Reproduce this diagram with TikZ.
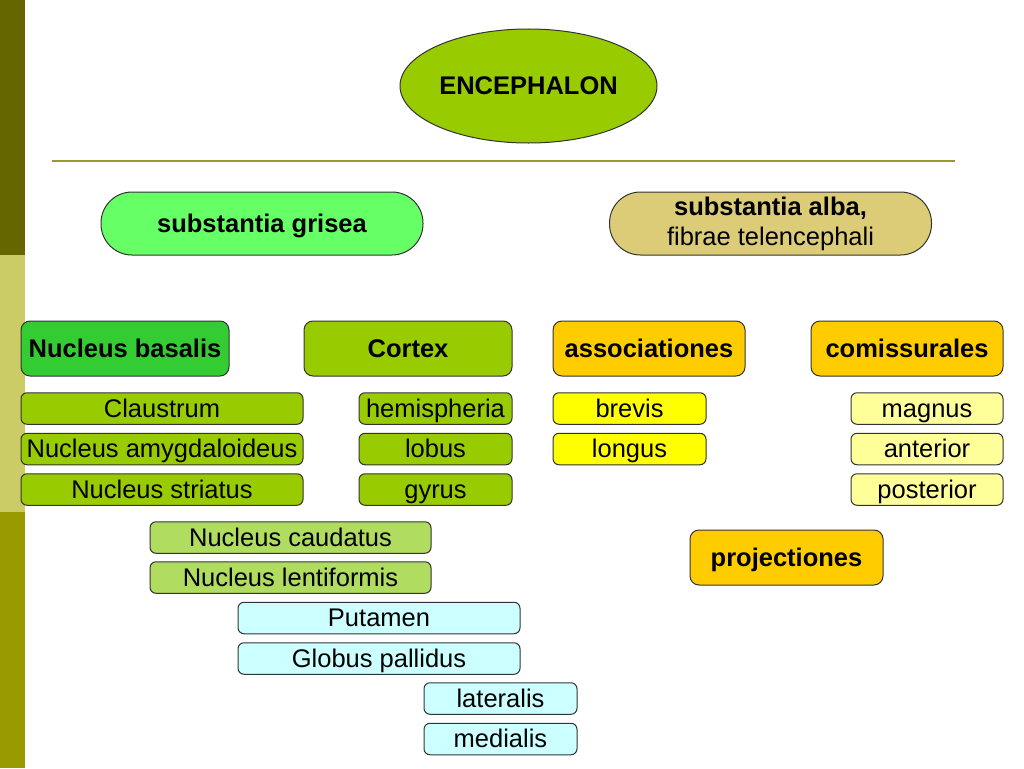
\documentclass[tikz,border=0pt]{standalone}
\usepackage{fontspec}
\setmainfont{Liberation Sans}
\usetikzlibrary{shapes.geometric}
\definecolor{barA}{HTML}{666600}
\definecolor{barB}{HTML}{CCCC66}
\definecolor{barC}{HTML}{999900}
\definecolor{rule}{HTML}{999933}
\definecolor{lime}{HTML}{99CC00}
\definecolor{mint}{HTML}{66FF66}
\definecolor{tan}{HTML}{DDCC77}
\definecolor{kelly}{HTML}{33CC33}
\definecolor{amber}{HTML}{FFCC00}
\definecolor{lemon}{HTML}{FFFF00}
\definecolor{cream}{HTML}{FFFF99}
\definecolor{sage}{HTML}{B0DC60}
\definecolor{aqua}{HTML}{CCFFFF}
\definecolor{edge}{HTML}{333333}
\tikzset{
  base/.style={draw=edge, line width=1pt, inner sep=0pt, align=center,
    text height=20pt, text depth=3pt,
    font=\fontsize{25.5}{30}\selectfont},
  head/.style={base, rounded corners=9pt, minimum height=55pt,
    font=\fontsize{25.5}{30}\selectfont\bfseries},
  pill/.style={base, rounded corners=31pt, minimum width=322pt, minimum height=63pt},
  item/.style={base, rounded corners=6pt, minimum height=31.5pt},
}
\begin{document}
\begin{tikzpicture}[x=1pt,y=-1pt]
\useasboundingbox (0,0) rectangle (1024,768);
% side bar
\fill[barA] (0,0) rectangle (25,255);
\fill[barB] (0,255) rectangle (25,512);
\fill[barC] (0,512) rectangle (25,768);
% rule
\draw[rule, line width=2pt] (52,161) -- (955,161);
% top ellipse
\node[base, ellipse, fill=lime, minimum width=257pt, minimum height=114pt,
  font=\fontsize{25.5}{30}\selectfont\bfseries] (enc) at (528.5,86) {ENCEPHALON};
% second level
\node[pill, fill=mint, font=\fontsize{25.5}{30}\selectfont\bfseries] (gris) at (262,223.5) {substantia grisea};
\node[pill, fill=tan, text height=, text depth=] (alba) at (770.5,223.5) {\textbf{substantia alba,}\\[0pt]fibrae telencephali};
% third level
\node[head, fill=kelly, minimum width=208pt] (nbas) at (125,348.5) {Nucleus basalis};
\node[head, fill=lime, minimum width=208pt] (cort) at (408,348.5) {Cortex};
\node[head, fill=amber, minimum width=192pt] (assoc) at (649,348.5) {associationes};
\node[head, fill=amber, minimum width=192pt] (comis) at (907,348.5) {comissurales};
\node[head, fill=amber, minimum width=193pt] (proj) at (786.5,557.5) {projectiones};
% nucleus basalis items
\node[item, fill=lime, minimum width=282pt] (claus) at (162,408.5) {Claustrum};
\node[item, fill=lime, minimum width=282pt] (amyg) at (162,449) {Nucleus amygdaloideus};
\node[item, fill=lime, minimum width=282pt] (stri) at (162,489.5) {Nucleus striatus};
% cortex items
\node[item, fill=lime, minimum width=153pt] (hemi) at (435.5,408.5) {hemispheria};
\node[item, fill=lime, minimum width=153pt] (lob) at (435.5,449) {lobus};
\node[item, fill=lime, minimum width=153pt] (gyr) at (435.5,489.5) {gyrus};
% associationes items
\node[item, fill=lemon, minimum width=153pt] (brev) at (629.5,408.5) {brevis};
\node[item, fill=lemon, minimum width=153pt] (long) at (629.5,449) {longus};
% comissurales items
\node[item, fill=cream, minimum width=152pt] (magn) at (927,408.5) {magnus};
\node[item, fill=cream, minimum width=152pt] (ant) at (927,449) {anterior};
\node[item, fill=cream, minimum width=152pt] (post) at (927,489.5) {posterior};
% striatus parts
\node[item, fill=sage, minimum width=281pt] (caud) at (290.5,537.5) {Nucleus caudatus};
\node[item, fill=sage, minimum width=281pt] (lent) at (290.5,577.5) {Nucleus lentiformis};
\node[item, fill=aqua, minimum width=282pt] (put) at (379,618) {Putamen};
\node[item, fill=aqua, minimum width=282pt] (glob) at (379,658.5) {Globus pallidus};
\node[item, fill=aqua, minimum width=153pt] (lat) at (500.5,698.5) {lateralis};
\node[item, fill=aqua, minimum width=153pt] (med) at (500.5,739) {medialis};
\end{tikzpicture}
\end{document}
